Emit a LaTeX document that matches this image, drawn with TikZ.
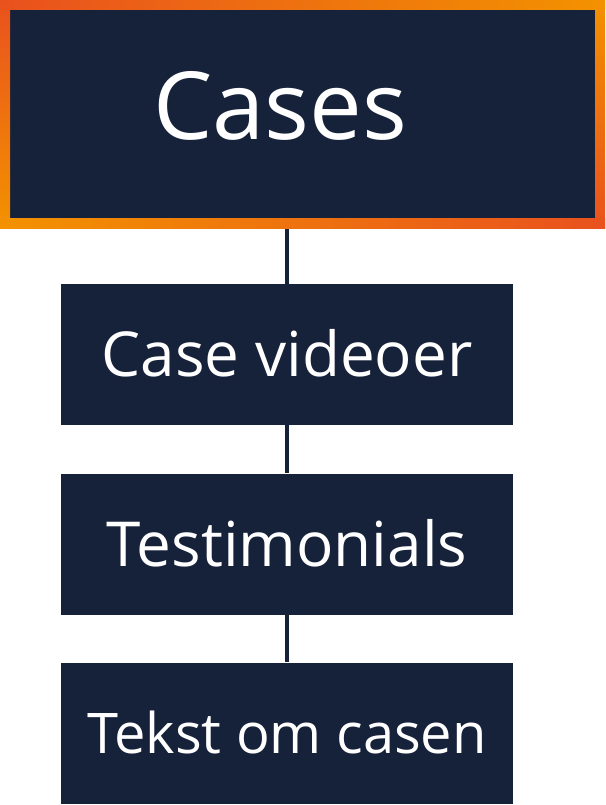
\documentclass[tikz,border=0pt]{standalone}
\usepackage{fontspec}
\setmainfont{Open Sans}
\usetikzlibrary{calc}
\definecolor{navy}{HTML}{16213A}
\definecolor{flame}{HTML}{E9511E}
\definecolor{amber}{HTML}{F39200}
\tikzset{
 casebox/.style={fill=navy, text=white, inner sep=0, minimum width=452, minimum height=141,
   text height=44.5, text depth=0, font=\fontsize{62}{70}\selectfont},
 link/.style={navy, line width=4}
}

\begin{document}
\begin{tikzpicture}[x=1pt,y=-1pt]
\fill[white] (0,0) rectangle (605,805);
\useasboundingbox (0,0) rectangle (605,805);
% top box
\node[fill=navy, inner sep=0, minimum width=585, minimum height=210] (cases) at (302.5,114) {};
\node[anchor=base, text=white, inner sep=0, font=\fontsize{94}{100}\selectfont] (title) at (280,140) {Cases};
% sub boxes
\node[casebox] (videos) at (287,354.5) {Case videoer};
\node[casebox] (testim) at (287,544) {Testimonials};
\node[casebox, text height=40, font=\fontsize{56}{64}\selectfont] (tekst) at (287,733) {Tekst om casen};
\draw[link] (videos.north |- cases.south) -- (videos.north);
\draw[link] (videos.south) -- (testim.north);
\draw[link] (testim.south) -- (tekst.north);
% orange frame
\shade[left color=flame, right color=amber] (0,0) rectangle (605,10);
\shade[left color=amber, right color=flame] (0,218) rectangle (605,228);
\shade[top color=flame, bottom color=amber] (0,0) rectangle (10,228);
\shade[top color=amber, bottom color=flame] (595,0) rectangle (605,228);
\end{tikzpicture}
\end{document}
